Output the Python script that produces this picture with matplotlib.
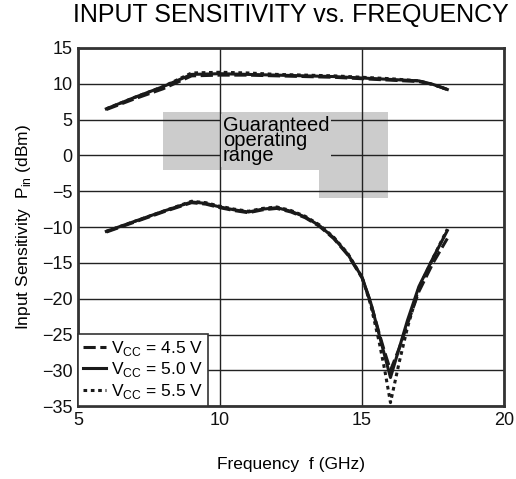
import matplotlib
matplotlib.use("Agg")
import matplotlib.pyplot as plt
from matplotlib.patches import Polygon

plt.rcParams['font.family'] = ['Liberation Sans', 'DejaVu Sans']

# Upper curves
f_up = [6, 7, 8, 9, 10, 11, 12, 13, 14, 15, 16, 17, 17.5, 18]
up_45 = [6.4, 7.9, 9.3, 11.1, 11.2, 11.2, 11.1, 11.0, 10.9, 10.7, 10.5, 10.3, 9.9, 9.2]
up_50 = [6.5, 8.1, 9.6, 11.3, 11.4, 11.3, 11.2, 11.1, 11.0, 10.8, 10.6, 10.4, 9.9, 9.2]
up_55 = [6.5, 8.1, 9.6, 11.5, 11.6, 11.5, 11.3, 11.2, 11.1, 10.9, 10.7, 10.4, 9.9, 9.2]

# Lower curves
f_lo = [6, 7, 8, 9, 9.5, 10, 10.5, 11, 11.5, 12, 12.5, 13, 13.5, 14, 14.5, 15, 15.3, 15.6, 15.8, 16, 16.3, 16.6, 17, 17.5, 18]
lo_45 = [-10.7, -9.3, -7.9, -6.6, -6.8, -7.3, -7.7, -8.0, -7.6, -7.4, -7.9, -8.7, -9.9, -11.6, -13.9, -17.1, -20.5, -24.8, -27.5, -30.0, -27.0, -23.5, -19.0, -15.0, -11.6]
lo_50 = [-10.6, -9.2, -7.8, -6.5, -6.7, -7.2, -7.6, -7.9, -7.5, -7.3, -7.8, -8.6, -9.8, -11.5, -13.8, -17.0, -20.5, -25.0, -28.0, -31.0, -27.0, -23.0, -18.3, -14.3, -10.5]
lo_55 = [-10.6, -9.2, -7.8, -6.4, -6.6, -7.1, -7.5, -7.8, -7.4, -7.2, -7.7, -8.5, -9.7, -11.4, -13.7, -17.0, -20.8, -26.0, -30.0, -34.5, -29.0, -24.0, -18.5, -14.3, -10.3]

# Guaranteed operating range outline (f, dBm)
range_f = [8, 15.9, 15.9, 13.5, 13.5, 8]
range_p = [6, 6, -6, -6, -2, -2]

xticks = [5, 10, 15, 20]
yticks = [15, 10, 5, 0, -5, -10, -15, -20, -25, -30, -35]

fig = plt.figure(figsize=(5.16, 4.79), dpi=100)
ax = fig.add_axes([0.151, 0.152, 0.826, 0.748])
ax.set_xlim(5, 20)
ax.set_ylim(-35, 15)

ax.add_patch(Polygon(list(zip(range_f, range_p)), closed=True,
                     facecolor='#cccccc', edgecolor='none', zorder=0))
ax.set_axisbelow(True)
ax.grid(True, color='#222222', linewidth=1.0, zorder=1)

lw = 2.2
ax.plot(f_up, up_45, color='#1a1a1a', lw=lw, ls=(0, (4, 1.5)), zorder=3)
ax.plot(f_up, up_50, color='#1a1a1a', lw=lw, ls='-', zorder=3)
ax.plot(f_up, up_55, color='#1a1a1a', lw=lw, ls=(0, (1.2, 1.2)), zorder=3)
l1, = ax.plot(f_lo, lo_45, color='#1a1a1a', lw=lw, ls=(0, (4, 1.5)), zorder=3)
l2, = ax.plot(f_lo, lo_50, color='#1a1a1a', lw=lw, ls='-', zorder=3)
l3, = ax.plot(f_lo, lo_55, color='#1a1a1a', lw=lw, ls=(0, (1.2, 1.2)), zorder=3)

ax.text(10.1, 2.1, "Guaranteed\noperating\nrange", fontsize=14.5, linespacing=0.72,
        ha='left', va='center', zorder=2,
        bbox=dict(facecolor='#cccccc', edgecolor='none', pad=1.5))

leg = ax.legend([l1, l2, l3],
                [r'V$_{\mathregular{CC}}$ = 4.5 V', r'V$_{\mathregular{CC}}$ = 5.0 V', r'V$_{\mathregular{CC}}$ = 5.5 V'],
                loc='lower left', borderaxespad=0, fancybox=False, framealpha=1,
                edgecolor='#333333', fontsize=12.5, handlelength=1.3, handletextpad=0.3,
                labelspacing=0.15, borderpad=0.3)
leg.get_frame().set_linewidth(1.2)
leg.set_zorder(5)

ax.set_xticks(xticks)
ax.set_yticks(yticks)
ax.set_yticklabels([str(v).replace('-', '\u2212') for v in yticks])
ax.tick_params(length=0, labelsize=13, pad=4, colors='#111111')
for s in ax.spines.values():
    s.set_linewidth(2.0)
    s.set_color('#333333')

ax.set_xlabel('Frequency  f (GHz)', fontsize=12.5, labelpad=20)
ax.set_ylabel(r'Input Sensitivity  P$_{\mathregular{in}}$ (dBm)', fontsize=12.5, labelpad=6)
ax.set_title('INPUT SENSITIVITY vs. FREQUENCY', fontsize=18, pad=19)

fig.savefig('out.png', dpi=100)
